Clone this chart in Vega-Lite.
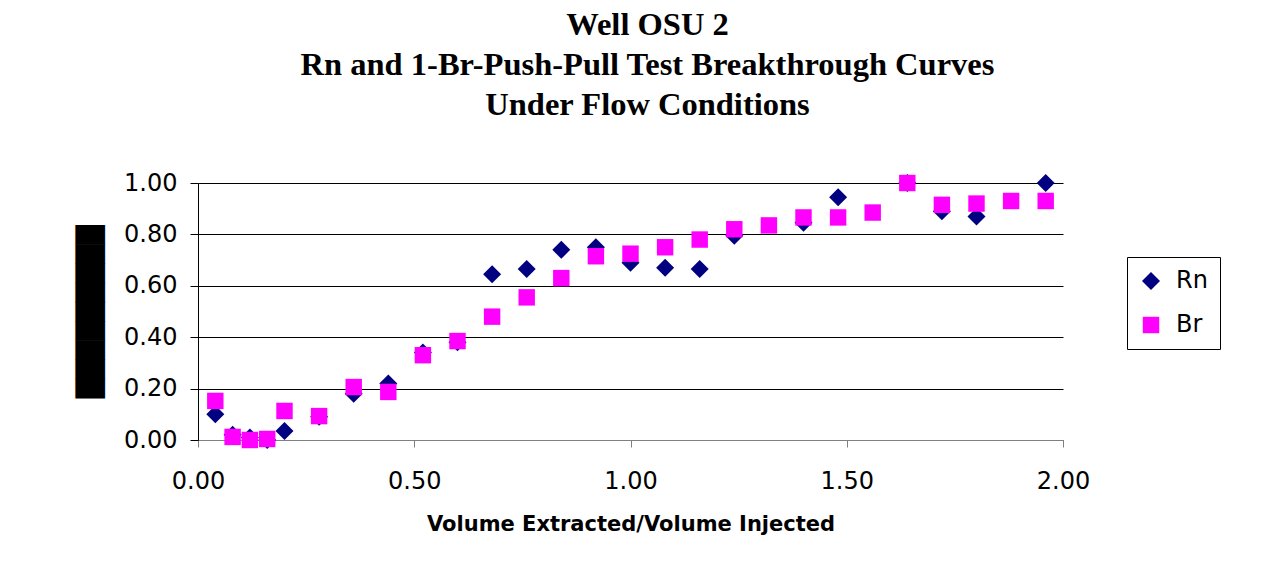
{
  "$schema": "https://vega.github.io/schema/vega-lite/v6.json",
  "width": 865,
  "height": 257,
  "autosize": {"type": "none"},
  "padding": {"left": 198, "top": 183, "right": 214, "bottom": 121},
  "background": "white",
  "title": {
    "text": ["Well OSU 2", "Rn and 1-Br-Push-Pull Test Breakthrough Curves", "Under Flow Conditions"],
    "font": "Liberation Serif",
    "fontSize": 32.5,
    "fontWeight": "bold",
    "lineHeight": 40,
    "color": "black",
    "anchor": "middle",
    "dx": 17,
    "offset": 50
  },
  "config": {
    "view": {"stroke": null},
    "axis": {"labelColor": "black", "titleColor": "black"}
  },
  "data": {
    "values": [
      {"v": 0.04, "c": 0.10, "s": "Rn"},
      {"v": 0.08, "c": 0.02, "s": "Rn"},
      {"v": 0.12, "c": 0.01, "s": "Rn"},
      {"v": 0.16, "c": 0.00, "s": "Rn"},
      {"v": 0.20, "c": 0.035, "s": "Rn"},
      {"v": 0.28, "c": 0.09, "s": "Rn"},
      {"v": 0.36, "c": 0.18, "s": "Rn"},
      {"v": 0.44, "c": 0.22, "s": "Rn"},
      {"v": 0.52, "c": 0.34, "s": "Rn"},
      {"v": 0.60, "c": 0.38, "s": "Rn"},
      {"v": 0.68, "c": 0.645, "s": "Rn"},
      {"v": 0.76, "c": 0.665, "s": "Rn"},
      {"v": 0.84, "c": 0.74, "s": "Rn"},
      {"v": 0.92, "c": 0.75, "s": "Rn"},
      {"v": 1.00, "c": 0.69, "s": "Rn"},
      {"v": 1.08, "c": 0.67, "s": "Rn"},
      {"v": 1.16, "c": 0.665, "s": "Rn"},
      {"v": 1.24, "c": 0.795, "s": "Rn"},
      {"v": 1.40, "c": 0.845, "s": "Rn"},
      {"v": 1.48, "c": 0.945, "s": "Rn"},
      {"v": 1.64, "c": 1.00, "s": "Rn"},
      {"v": 1.72, "c": 0.89, "s": "Rn"},
      {"v": 1.80, "c": 0.87, "s": "Rn"},
      {"v": 1.96, "c": 1.00, "s": "Rn"},
      {"v": 0.04, "c": 0.152, "s": "Br"},
      {"v": 0.08, "c": 0.012, "s": "Br"},
      {"v": 0.12, "c": 0.0, "s": "Br"},
      {"v": 0.16, "c": 0.004, "s": "Br"},
      {"v": 0.20, "c": 0.113, "s": "Br"},
      {"v": 0.28, "c": 0.093, "s": "Br"},
      {"v": 0.36, "c": 0.206, "s": "Br"},
      {"v": 0.44, "c": 0.187, "s": "Br"},
      {"v": 0.52, "c": 0.33, "s": "Br"},
      {"v": 0.60, "c": 0.385, "s": "Br"},
      {"v": 0.68, "c": 0.48, "s": "Br"},
      {"v": 0.76, "c": 0.555, "s": "Br"},
      {"v": 0.84, "c": 0.63, "s": "Br"},
      {"v": 0.92, "c": 0.715, "s": "Br"},
      {"v": 1.00, "c": 0.725, "s": "Br"},
      {"v": 1.08, "c": 0.75, "s": "Br"},
      {"v": 1.16, "c": 0.78, "s": "Br"},
      {"v": 1.24, "c": 0.82, "s": "Br"},
      {"v": 1.32, "c": 0.835, "s": "Br"},
      {"v": 1.40, "c": 0.866, "s": "Br"},
      {"v": 1.48, "c": 0.866, "s": "Br"},
      {"v": 1.56, "c": 0.885, "s": "Br"},
      {"v": 1.64, "c": 1.0, "s": "Br"},
      {"v": 1.72, "c": 0.915, "s": "Br"},
      {"v": 1.80, "c": 0.92, "s": "Br"},
      {"v": 1.88, "c": 0.93, "s": "Br"},
      {"v": 1.96, "c": 0.93, "s": "Br"}
    ]
  },
  "mark": {"type": "point", "filled": true, "opacity": 1, "strokeWidth": 0},
  "encoding": {
    "x": {
      "field": "v",
      "type": "quantitative",
      "scale": {"domain": [0, 2], "nice": false, "zero": false},
      "axis": {
        "values": [0, 0.5, 1, 1.5, 2],
        "format": ".2f",
        "grid": false,
        "domainColor": "#808080",
        "tickColor": "#808080",
        "tickSize": 7,
        "labelFont": "DejaVu Sans",
        "labelFontSize": 24,
        "labelPadding": 22,
        "labelFlush": false,
        "title": "Volume Extracted/Volume Injected",
        "titleFont": "DejaVu Sans",
        "titleFontSize": 21,
        "titleFontWeight": "bold",
        "titleBaseline": "top",
        "titleY": 73
      }
    },
    "y": {
      "field": "c",
      "type": "quantitative",
      "scale": {"domain": [0, 1], "nice": false},
      "axis": {
        "values": [0, 0.2, 0.4, 0.6, 0.8, 1.0],
        "format": ".2f",
        "grid": true,
        "gridColor": "black",
        "gridOpacity": 1,
        "domainColor": "black",
        "tickColor": "black",
        "tickSize": 8,
        "labelFont": "DejaVu Sans",
        "labelFontSize": 24,
        "labelPadding": 13,
        "labelFlush": false,
        "title": "█████████",
        "titleFont": "DejaVu Sans",
        "titleFontSize": 25,
        "titleFontWeight": "normal",
        "titleAngle": 270,
        "titleBaseline": "middle",
        "titleX": -108,
        "titleY": 128.5
      }
    },
    "color": {
      "field": "s",
      "type": "nominal",
      "scale": {"domain": ["Rn", "Br"], "range": ["#000080", "#FF00FF"]},
      "legend": {
        "title": null,
        "orient": "none",
        "legendX": 929,
        "legendY": 74,
        "strokeColor": "black",
        "padding": 12,
        "labelFont": "DejaVu Sans",
        "labelFontSize": 24,
        "labelColor": "black",
        "labelOffset": 13,
        "rowPadding": 20,
        "symbolSize": 250,
        "symbolStrokeWidth": 0,
        "symbolOpacity": 1,
        "fillColor": "white"
      }
    },
    "shape": {
      "field": "s",
      "type": "nominal",
      "scale": {"domain": ["Rn", "Br"], "range": ["diamond", "square"]}
    },
    "size": {
      "field": "s",
      "type": "nominal",
      "scale": {"domain": ["Rn", "Br"], "range": [324, 270]},
      "legend": null
    }
  }
}
